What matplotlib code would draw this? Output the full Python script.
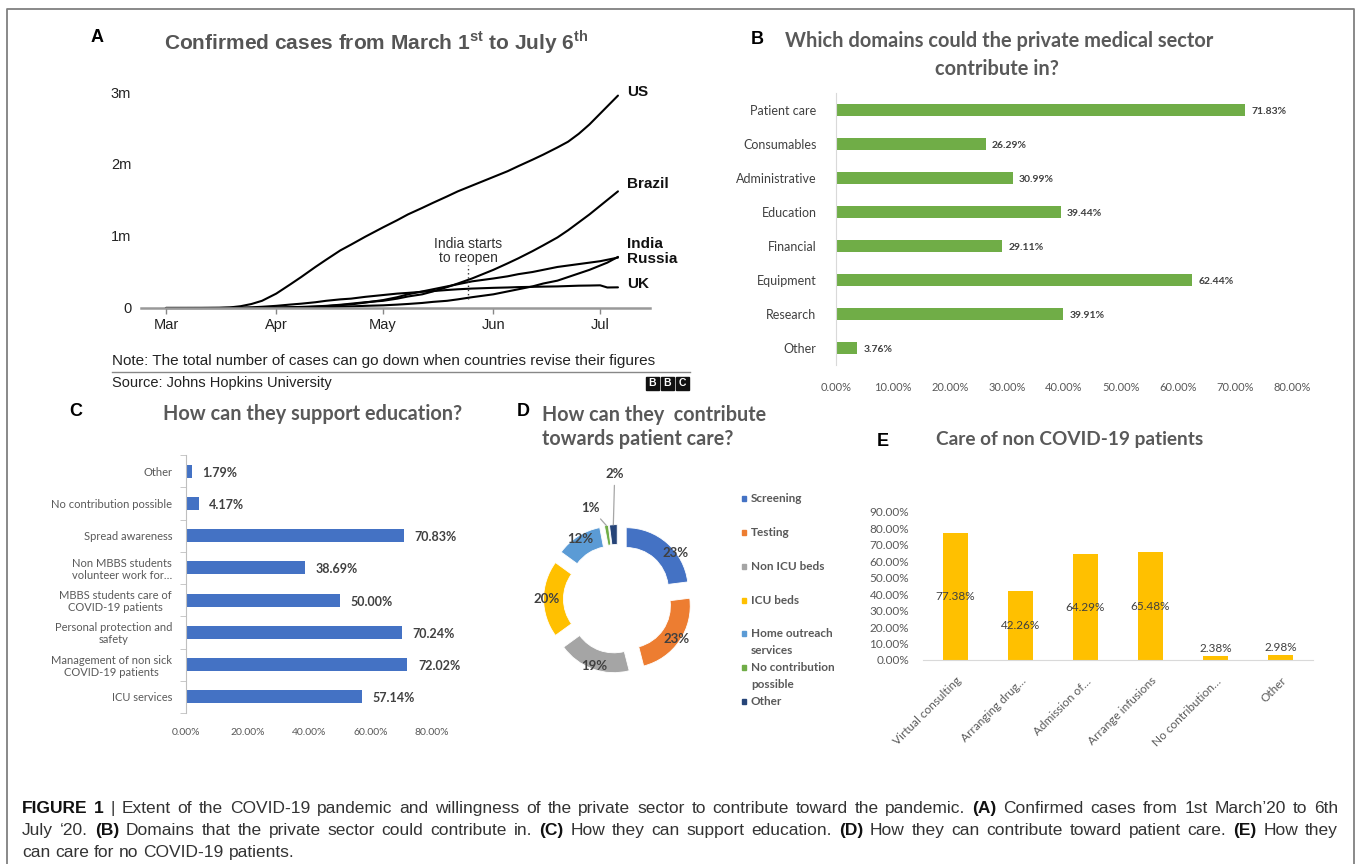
import matplotlib
matplotlib.use('Agg')
import matplotlib.pyplot as plt
from matplotlib.lines import Line2D
from matplotlib.patches import Rectangle
from matplotlib.transforms import ScaledTranslation
import numpy as np

plt.rcParams['font.family'] = ['Lato', 'DejaVu Sans']
plt.rcParams['mathtext.fontset'] = 'custom'
plt.rcParams['mathtext.rm'] = 'Liberation Sans'
plt.rcParams['mathtext.bf'] = 'Liberation Sans:bold'

# ---------------- data ----------------
# Panel A: cumulative confirmed cases (millions), days since March 1st
a_days = [0, 10, 15, 18, 21, 24, 27, 31, 35, 38, 42, 45, 49, 52, 56, 61, 65, 68, 72, 75, 79, 82,
          86, 89, 92, 96, 99, 103, 106, 110, 113, 116, 119, 122, 124, 127]
a_us = [0, 0.0003, 0.002, 0.008, 0.025, 0.055, 0.10, 0.20, 0.33, 0.43, 0.57, 0.67, 0.80, 0.88,
        0.99, 1.12, 1.22, 1.30, 1.39, 1.46, 1.55, 1.62, 1.70, 1.76, 1.82, 1.90, 1.97, 2.06, 2.13,
        2.23, 2.31, 2.42, 2.55, 2.70, 2.80, 2.95]
a_brazil = [0, 0, 0, 0, 0.001, 0.002, 0.004, 0.007, 0.011, 0.015, 0.022, 0.03, 0.045, 0.06, 0.08,
            0.10, 0.13, 0.16, 0.19, 0.23, 0.29, 0.34, 0.41, 0.47, 0.53, 0.62, 0.69, 0.79, 0.87,
            0.98, 1.08, 1.19, 1.30, 1.42, 1.50, 1.62]
a_india = [0, 0, 0, 0, 0, 0, 0.001, 0.002, 0.003, 0.005, 0.009, 0.012, 0.018, 0.022, 0.03, 0.037,
           0.047, 0.056, 0.07, 0.085, 0.10, 0.12, 0.15, 0.17, 0.19, 0.23, 0.26, 0.30, 0.34, 0.38,
           0.43, 0.48, 0.53, 0.59, 0.63, 0.71]
a_russia = [0, 0, 0, 0, 0, 0.0005, 0.001, 0.003, 0.006, 0.010, 0.018, 0.025, 0.040, 0.05, 0.075,
            0.11, 0.15, 0.19, 0.23, 0.26, 0.30, 0.33, 0.37, 0.39, 0.41, 0.44, 0.47, 0.50, 0.53,
            0.57, 0.59, 0.61, 0.63, 0.65, 0.67, 0.70]
a_uk = [0, 0.0003, 0.001, 0.003, 0.005, 0.009, 0.017, 0.03, 0.048, 0.06, 0.08, 0.10, 0.12, 0.13,
        0.155, 0.18, 0.20, 0.21, 0.225, 0.235, 0.25, 0.26, 0.27, 0.275, 0.28, 0.285, 0.29, 0.294,
        0.297, 0.30, 0.305, 0.31, 0.312, 0.315, 0.285, 0.287]
a_series = {'US': a_us, 'Brazil': a_brazil, 'India': a_india, 'Russia': a_russia, 'UK': a_uk}
a_label_vals = {'US': 3.0, 'Brazil': 1.72, 'India': 0.89, 'Russia': 0.68, 'UK': 0.33}
a_month_days = [0, 31, 61, 92, 122]
a_month_labels = ['Mar', 'Apr', 'May', 'Jun', 'Jul']
a_yticks = [0, 1, 2, 3]
a_ylabels = ['0', '1m', '2m', '3m']
a_reopen_day = 85

# Panel B
b_cats = ['Patient care', 'Consumables', 'Administrative', 'Education', 'Financial',
          'Equipment', 'Research', 'Other']
b_vals = [71.83, 26.29, 30.99, 39.44, 29.11, 62.44, 39.91, 3.76]

# Panel C
c_cats = ['Other', 'No contribution possible', 'Spread awareness',
          'Non MBBS students\nvolunteer work for\u2026', 'MBBS students care of\nCOVID-19 patients',
          'Personal protection and\nsafety', 'Management of non sick\nCOVID-19 patients', 'ICU services']
c_vals = [1.79, 4.17, 70.83, 38.69, 50.00, 70.24, 72.02, 57.14]

# Panel D
d_cats = ['Screening', 'Testing', 'Non ICU beds', 'ICU beds', 'Home outreach\nservices',
          'No contribution\npossible', 'Other']
d_vals = [23, 23, 19, 20, 12, 1, 2]
d_colors = ['#4472C4', '#ED7D31', '#A5A5A5', '#FFC000', '#5B9BD5', '#70AD47', '#264478']

# Panel E
e_cats = ['Virtual consulting', 'Arranging drug\u2026', 'Admission of\u2026', 'Arrange infusions',
          'No contribution\u2026', 'Other']
e_vals = [77.38, 42.26, 64.29, 65.48, 2.38, 2.98]

# ---------------- figure ----------------
W, H = 1357, 864
fig = plt.figure(figsize=(W / 100, H / 100), dpi=100)
fig.patch.set_facecolor('white')


def ax_px(l, t, r, b):
    return fig.add_axes([l / W, 1 - b / H, (r - l) / W, (b - t) / H])


def ftext(x, y, s, **kw):
    return fig.text(x / W, 1 - y / H, s, **kw)


ARIAL = 'Liberation Sans'
TGRAY = '#595959'
LGRAY = '#404040'

# border
fig.add_artist(Line2D([7 / W, 7 / W, 1354 / W, 1354 / W], [-0.01, 1 - 9 / H, 1 - 9 / H, -0.01],
                      color='#808080', lw=1.3))

# ---------------- Panel A ----------------
axA = ax_px(141, 308 - 3.15 * 72, 650, 308)
for name, vals in a_series.items():
    axA.plot(a_days, vals, color='black', lw=1.5, solid_capstyle='round',
             solid_joinstyle='round', clip_on=False)
axA.set_xlim(-7, 136)
axA.set_ylim(0, 3.15)
for s in ['top', 'right', 'left']:
    axA.spines[s].set_visible(False)
axA.spines['bottom'].set_color('#999999')
axA.spines['bottom'].set_linewidth(1.8)
axA.set_xticks(a_month_days)
axA.set_xticklabels(a_month_labels, family=ARIAL, fontsize=10.5, color='#222222')
axA.set_yticks(a_yticks)
axA.set_yticklabels(a_ylabels, family=ARIAL, fontsize=10.5, color='#222222')
axA.tick_params(axis='x', length=4, width=1, color='#888888', pad=3)
axA.tick_params(axis='y', length=0, pad=7)
for name, yv in a_label_vals.items():
    axA.text(129.5, yv, name, family=ARIAL, fontweight='bold', fontsize=11, va='center',
             ha='left', color='#111111', clip_on=False)
axA.plot([a_reopen_day, a_reopen_day], [0.12, 0.6], ls=(0, (1, 2)), color='#333333', lw=1)
axA.text(a_reopen_day, 0.79, 'India starts\nto reopen', family=ARIAL, fontsize=10, ha='center',
         va='center', color='#333333', linespacing=1.0)
ftext(97, 38, 'A', family=ARIAL, fontweight='bold', fontsize=13, ha='center', va='center')
ftext(376, 42, r'Confirmed cases from March 1$^{\mathbf{st}}$ to July 6$^{\mathbf{th}}$',
      family=ARIAL, fontweight='bold', fontsize=15, ha='center', va='center', color='#555555')
ftext(112, 361, 'Note: The total number of cases can go down when countries revise their figures',
      family=ARIAL, fontsize=11, va='center', color='#222222')
fig.add_artist(Line2D([112 / W, 690 / W], [1 - 372 / H, 1 - 372 / H], color='#888888', lw=1))
ftext(112, 383, 'Source: Johns Hopkins University', family=ARIAL, fontsize=10.5, va='center',
      color='#222222')
for k, ch in enumerate('BBC'):
    x0 = 646 + k * 15
    fig.add_artist(Rectangle((x0 / W, 1 - 390 / H), 13 / W, 13 / H, color='#111111'))
    ftext(x0 + 6.5, 383.5, ch, family=ARIAL, fontweight='bold', fontsize=7.5, color='white',
          ha='center', va='center')

# ---------------- Panel B ----------------
axB = ax_px(836, 93, 1292, 365)
yb = np.arange(len(b_cats))
axB.barh(yb, b_vals, height=0.36, color='#70AD47')
axB.set_ylim(len(b_cats) - 0.5, -0.5)
axB.set_xlim(0, 80)
axB.set_yticks(yb)
axB.set_yticklabels(b_cats, fontsize=9, color=LGRAY)
xt = list(range(0, 81, 10))
axB.set_xticks(xt)
axB.set_xticklabels([f'{t:.2f}%' for t in xt], fontsize=8, color=TGRAY)
axB.tick_params(length=0)
axB.tick_params(axis='y', pad=14)
axB.tick_params(axis='x', pad=12)
for s in ['top', 'right', 'bottom']:
    axB.spines[s].set_visible(False)
axB.spines['left'].set_color('#D9D9D9')
for i, v in enumerate(b_vals):
    axB.annotate(f'{v:.2f}%', (v, i), xytext=(4.5, -1), textcoords='offset points',
                 fontsize=7.5, fontweight='bold', color=LGRAY, va='center')
ftext(757, 40, 'B', family=ARIAL, fontweight='bold', fontsize=13, ha='center', va='center')
ftext(999, 41, 'Which domains could the private medical sector', fontweight='bold', fontsize=14.4,
      color=TGRAY, ha='center', va='center')
ftext(997, 69, 'contribute in?', fontweight='bold', fontsize=14.4, color=TGRAY, ha='center',
      va='center')

# ---------------- Panel C ----------------
axC = ax_px(186, 455, 432, 713)
yc = np.arange(len(c_cats))
axC.barh(yc, c_vals, height=0.4, color='#4472C4')
axC.set_ylim(len(c_cats) - 0.5, -0.5)
axC.set_xlim(0, 80)
axC.set_yticks(yc)
axC.set_yticklabels(c_cats, fontsize=8, color=TGRAY, multialignment='center', linespacing=1.1)
axC.set_yticks(np.arange(-0.5, len(c_cats)), minor=True)
xc = [0, 20, 40, 60, 80]
axC.set_xticks(xc)
axC.set_xticklabels([f'{t:.2f}%' for t in xc], fontsize=7.5, color=TGRAY)
axC.tick_params(axis='both', which='major', length=0)
axC.tick_params(axis='y', which='minor', length=4, color='#BFBFBF', direction='out')
axC.tick_params(axis='y', pad=10)
axC.tick_params(axis='x', pad=11)
for s in ['top', 'right', 'bottom']:
    axC.spines[s].set_visible(False)
axC.spines['left'].set_color('#BFBFBF')
for i, v in enumerate(c_vals):
    axC.annotate(f'{v:.2f}%', (v, i), xytext=(7.5, -1), textcoords='offset points',
                 fontsize=9, fontweight='bold', color=LGRAY, va='center')
ftext(76, 411, 'C', family=ARIAL, fontweight='bold', fontsize=13, ha='center', va='center')
ftext(313, 414, 'How can they support education?', fontweight='bold', fontsize=14.3, color=TGRAY,
      ha='center', va='center')

# ---------------- Panel D ----------------
axD = ax_px(518, 499, 718, 699)
wedges, _ = axD.pie(d_vals, colors=d_colors, startangle=90, counterclock=False,
                    explode=[0.2] * len(d_vals), radius=1,
                    wedgeprops=dict(width=0.32, edgecolor='white', linewidth=0.6))
axD.set_xlim(-1.613, 1.613)
axD.set_ylim(-1.613, 1.613)
axD.set_aspect('auto')
axD.axis('off')
tot = sum(d_vals)
for k, (w, v) in enumerate(zip(wedges, d_vals)):
    th = np.deg2rad((w.theta1 + w.theta2) / 2)
    cx, cy = w.center
    lab = f'{round(100 * v / tot)}%'
    if v >= 5:
        ang = th - (np.deg2rad(12) if k == 0 else 0)
        r = 1.0 if k == 0 else 0.95
        axD.text(cx + r * np.cos(ang), cy + r * np.sin(ang), lab, fontsize=9.5, fontweight='bold',
                 color=LGRAY, ha='center', va='center')
    else:
        ex, ey = cx + np.cos(th), cy + np.sin(th)
        if k == 5:
            tpos = (1.53 * np.cos(np.deg2rad(106.6)), 1.53 * np.sin(np.deg2rad(106.6)))
        else:
            tpos = (2.02 * np.cos(np.deg2rad(91.5)), 2.02 * np.sin(np.deg2rad(91.5)))
        axD.annotate(lab, (ex, ey), xytext=tpos, textcoords='data', fontsize=9.5,
                     fontweight='bold', color=LGRAY, ha='center', va='center',
                     annotation_clip=False,
                     arrowprops=dict(arrowstyle='-', color='#A6A6A6', lw=0.9, shrinkA=2,
                                     shrinkB=0))
for i, (lab, col) in enumerate(zip(d_cats, d_colors)):
    y = 499 + i * 33.7
    fig.add_artist(Rectangle(((744 - 2.5) / W, 1 - (y + 2.5) / H), 5 / W, 5 / H, color=col))
    for j, line in enumerate(lab.split('\n')):
        ftext(751, y + j * 17, line, fontsize=8.5, fontweight='bold', color=TGRAY, va='center')
ftext(523, 412, 'D', family=ARIAL, fontweight='bold', fontsize=13, ha='center', va='center')
ftext(542, 415, 'How can they  contribute', fontweight='bold', fontsize=14.2, color=TGRAY,
      ha='left', va='center')
ftext(542, 439, 'towards patient care?', fontweight='bold', fontsize=14.2, color=TGRAY,
      ha='left', va='center')

# ---------------- Panel E ----------------
axE = ax_px(923, 512, 1313, 660)
xe = np.arange(len(e_cats))
axE.bar(xe, e_vals, width=0.385, color='#FFC000')
axE.set_xlim(-0.5, len(e_cats) - 0.5)
axE.set_ylim(0, 90)
ye = list(range(0, 91, 10))
axE.set_yticks(ye)
axE.set_yticklabels([f'{t:.2f}%' for t in ye], fontsize=8.5, color=TGRAY)
axE.set_xticks(xe)
axE.set_xticklabels(e_cats, fontsize=8.5, color=TGRAY, rotation=45, ha='right',
                    rotation_mode='anchor', va='top')
for lbl in axE.get_xticklabels():
    lbl.set_transform(lbl.get_transform() + ScaledTranslation(4 / 100, 0, fig.dpi_scale_trans))
axE.tick_params(length=0)
axE.tick_params(axis='y', pad=10)
axE.tick_params(axis='x', pad=11)
for s in ['top', 'right', 'left']:
    axE.spines[s].set_visible(False)
axE.spines['bottom'].set_color('#D9D9D9')
for i, v in enumerate(e_vals):
    yy = v / 2 if v >= 10 else v + 4.5
    axE.text(i, yy, f'{v:.2f}%', fontsize=8.5, color=LGRAY, ha='center', va='center')
ftext(883, 442, 'E', family=ARIAL, fontweight='bold', fontsize=13, ha='center', va='center')
ftext(1070, 439, 'Care of non COVID-19 patients', fontweight='bold', fontsize=13.7, color=TGRAY,
      ha='center', va='center')

# ---------------- Caption ----------------
cap_lines = [
    "**FIGURE 1** | Extent of the COVID-19 pandemic and willingness of the private sector to "
    "contribute toward the pandemic. **(A)** Confirmed cases from 1st March\u201920 to 6th",
    "July \u201820. **(B)** Domains that the private sector could contribute in. **(C)** How they can "
    "support education. **(D)** How they can contribute toward patient care. **(E)** How they",
    "can care for no COVID-19 patients.",
]
cap_y = [808, 830, 852]
cap_fs = 12.5
renderer = fig.canvas.get_renderer()
sp = ftext(0, 0, 'a a', family=ARIAL, fontsize=cap_fs)
sp2 = ftext(0, 0, 'aa', family=ARIAL, fontsize=cap_fs)
space_w = sp.get_window_extent(renderer).width - sp2.get_window_extent(renderer).width
sp.remove()
sp2.remove()
for li, (line, yc0) in enumerate(zip(cap_lines, cap_y)):
    parts = line.split('**')
    words = []
    for pi, part in enumerate(parts):
        for wd in part.split():
            words.append((wd, pi % 2 == 1))
    objs = []
    for wd, bold in words:
        t = ftext(0, yc0 + 5, wd, family=ARIAL, fontsize=cap_fs,
                  fontweight='bold' if bold else 'normal',
                  color='#111111' if bold else '#333333', va='baseline', ha='left')
        objs.append(t)
    widths = [t.get_window_extent(renderer).width for t in objs]
    x0, x1 = 22, 1338
    if li < 2:
        gap = (x1 - x0 - sum(widths)) / (len(words) - 1)
    else:
        gap = space_w
    x = x0
    for t, wdt in zip(objs, widths):
        t.set_x(x / W)
        x += wdt + gap

fig.savefig('out.png', dpi=100, facecolor='white')
